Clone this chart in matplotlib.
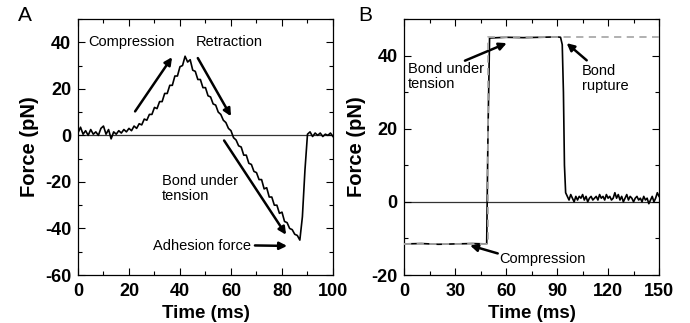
import matplotlib
matplotlib.use("Agg")
import matplotlib.pyplot as plt
from matplotlib.ticker import MultipleLocator

plt.rcParams["font.family"] = ["Liberation Sans", "DejaVu Sans"]
plt.rcParams["axes.unicode_minus"] = False

# =========================
# Panel A data (1 ms steps)
# =========================
time_a = list(range(0, 101))
force_a = [
    1.0, 3.5, 0.5, 2.0, 0.0, 2.5, 0.5, 1.5, 0.0, 3.0,
    4.0, 0.5, 2.5, -1.5, 1.5, 0.5, 2.0, 1.0, 2.5, 1.5,
    3.0, 2.0, 4.0, 3.0, 5.0, 4.5, 7.0, 6.5, 9.0, 9.0,
    12.0, 11.5, 14.5, 14.5, 18.0, 18.0, 21.5, 21.5, 25.5, 25.5,
    29.5, 30.0, 34.0, 31.5, 32.5, 28.0, 27.5, 24.0, 24.0, 20.5,
    20.5, 17.0, 16.5, 13.5, 13.0, 10.0, 9.0, 6.5, 5.5, 3.0,
    2.0, -1.0, -2.0, -4.5, -5.0, -8.5, -8.5, -12.0, -12.5, -15.5,
    -16.0, -19.0, -19.0, -23.0, -22.5, -26.5, -26.5, -30.0, -30.0, -33.5,
    -33.0, -37.0, -37.5, -40.0, -40.5, -42.5, -43.0, -45.0, -35.0, -15.0,
    0.5, 1.5, -0.5, 1.0, 0.0, 1.0, -0.5, 0.5, 0.0, 1.0,
    -0.5,
]

# =========================
# Panel B data
# =========================
time_b = [0, 10, 20, 30, 40, 48.5, 49.3, 50.2, 60, 70, 80, 90, 92, 93,
          93.7, 94.3, 95,
          96, 97, 98, 99, 100, 101, 102, 103, 104, 105, 106, 107, 108, 109,
          110, 111, 112, 113, 114, 115, 116, 117, 118, 119, 120, 121, 122,
          123, 124, 125, 126, 127, 128, 129, 130, 131, 132, 133, 134, 135,
          136, 137, 138, 139, 140, 141, 142, 143, 144, 145, 146, 147, 148,
          149, 150]
force_b = [-11.5, -11.4, -11.6, -11.5, -11.4, -11.5, 20.0, 44.8, 45.0, 44.9,
           45.0, 45.1, 45.0, 43.0, 30.0, 10.0, 2.5,
           1.5, 0.5, 2.0, 1.0, 0.0, 1.5, 0.5, 1.5, 1.0, 2.0, 0.5, 1.5, 0.0,
           1.0, 1.5, 0.5, 1.0, 1.5, 0.5, 2.0, 1.0, 1.5, 0.5, 2.0, 1.0, 1.5,
           0.5, 1.0, 2.5, 1.0, 2.0, 0.5, 1.5, 0.0, 1.0, 2.0, 0.5, 1.5, 1.0,
           0.0, 1.0, 1.5, 0.5, 1.0, 0.0, 1.5, 0.5, 1.0, -0.5, 0.5, 1.5, 0.0,
           1.0, 2.5, 1.5]

applied_t = [0, 49.5, 49.5, 150]
applied_f = [-11.5, -11.5, 45.0, 45.0]

ANN = 10.5


def style_axes(ax, xmax, xmajor, xminor, ymin, ymax):
    ax.set_xlim(0, xmax)
    ax.set_ylim(ymin, ymax)
    ax.xaxis.set_major_locator(MultipleLocator(xmajor))
    ax.xaxis.set_minor_locator(MultipleLocator(xminor))
    ax.yaxis.set_major_locator(MultipleLocator(20))
    ax.yaxis.set_minor_locator(MultipleLocator(10))
    ax.tick_params(which="both", direction="in", top=True, right=True,
                   labelsize=13, width=0.8)
    ax.tick_params(which="major", length=5)
    ax.tick_params(axis="x", which="major", pad=6)
    ax.tick_params(axis="y", which="major", pad=5)
    ax.tick_params(which="minor", length=3)
    for lab in ax.get_xticklabels() + ax.get_yticklabels():
        lab.set_fontweight("bold")
    for sp in ax.spines.values():
        sp.set_linewidth(0.9)
    ax.set_xlabel("Time (ms)", fontsize=13.5, fontweight="bold", labelpad=3)
    ax.set_ylabel("Force (pN)", fontsize=14.5, fontweight="bold", labelpad=4)
    ax.axhline(0, color="#333333", lw=0.9, zorder=1)


def arrow(ax, tail, head):
    ax.annotate("", xy=head, xytext=tail,
                arrowprops=dict(arrowstyle="-|>", color="black", lw=1.8,
                                mutation_scale=11, shrinkA=0, shrinkB=0))


fig = plt.figure(figsize=(6.9, 3.23), dpi=100)
ax_a = fig.add_axes([0.113, 0.1486, 0.3696, 0.7926])
ax_b = fig.add_axes([0.586, 0.1486, 0.3691, 0.7926])

# =========================
# Panel A
# =========================
ax_a.plot(time_a, force_a, color="black", lw=1.2, zorder=3)
style_axes(ax_a, 100, 20, 10, -60, 50)

ax_a.text(4, 40, "Compression", fontsize=ANN, va="center")
ax_a.text(46, 40, "Retraction", fontsize=ANN, va="center")
ax_a.text(33, -23, "Bond under\ntension", fontsize=ANN, va="center",
          linespacing=1.1)
ax_a.text(29.5, -47.4, "Adhesion force", fontsize=ANN, va="center")
arrow(ax_a, (22.4, 10.3), (36.9, 33.6))
arrow(ax_a, (47, 33.2), (60, 8.2))
arrow(ax_a, (57.3, -2.2), (81.6, -42.7))
arrow(ax_a, (69.4, -47.3), (82, -47.5))

fig.text(0.026, 0.935, "A", fontsize=15)

# =========================
# Panel B
# =========================
ax_b.plot(time_b, force_b, color="black", lw=1.2, zorder=3)
ax_b.plot(applied_t, applied_f, color="#aaaaaa", lw=1.3, ls=(0, (4, 3)),
          zorder=4)
style_axes(ax_b, 150, 30, 15, -20, 50)

ax_b.text(2.2, 34.2, "Bond under\ntension", fontsize=ANN, va="center",
          linespacing=1.1)
ax_b.text(104.5, 33.8, "Bond\nrupture", fontsize=ANN, va="center",
          linespacing=1.1)
ax_b.text(56, -15.6, "Compression", fontsize=ANN, va="center")
arrow(ax_b, (35.7, 38.6), (60.3, 43.4))
arrow(ax_b, (107.4, 38.7), (95.6, 43.4))
arrow(ax_b, (55, -14.1), (38.7, -11.9))

fig.text(0.519, 0.935, "B", fontsize=15)

fig.savefig("out.png", dpi=100)
